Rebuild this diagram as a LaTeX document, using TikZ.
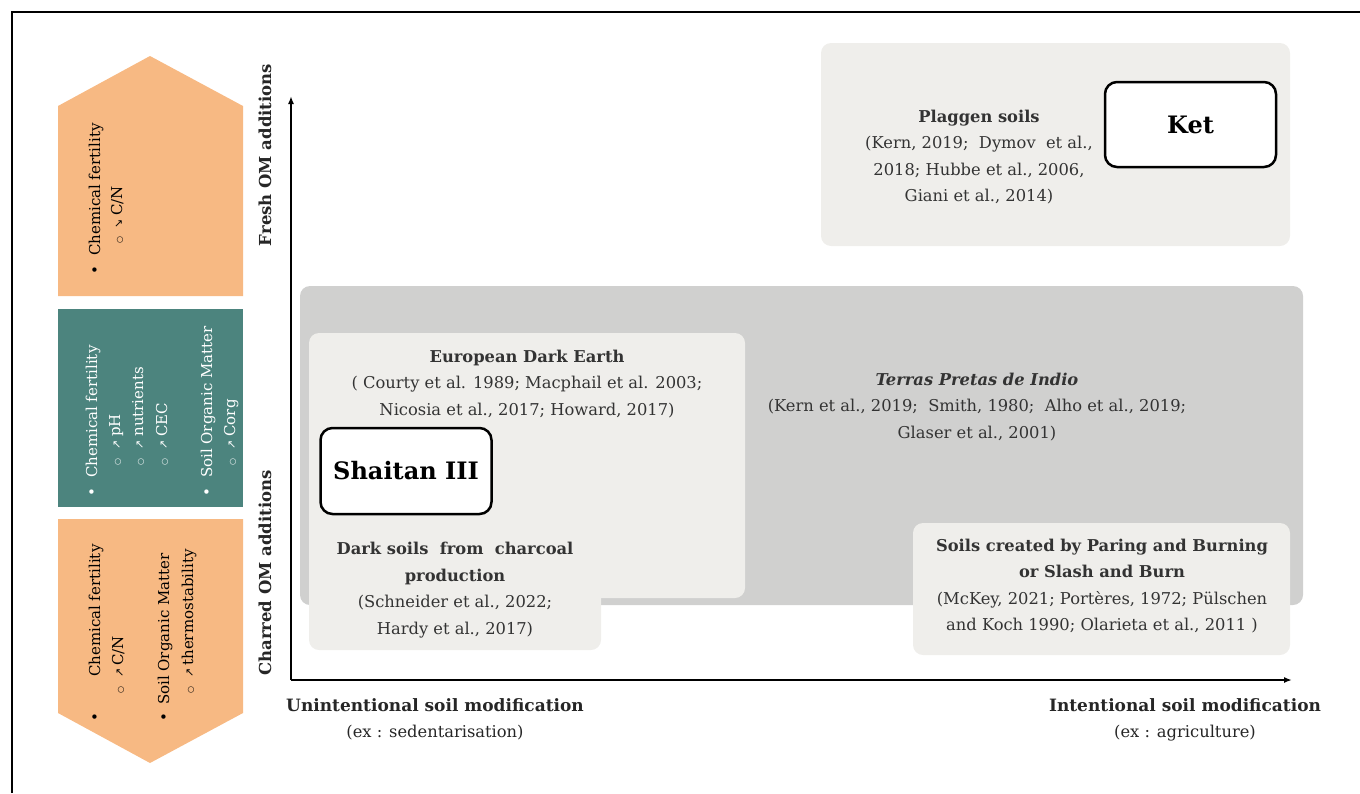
\documentclass[tikz,border=0pt]{standalone}
\usepackage{fontspec}
\setmainfont{DejaVu Serif}
\newfontfamily\symfont{DejaVu Sans}
\usepackage{tikz}
\usetikzlibrary{arrows.meta,positioning}
\definecolor{PeachFill}{RGB}{247,185,131}
\definecolor{TealFill}{RGB}{76,132,126}
\definecolor{ZoneGrey}{RGB}{208,208,207}
\definecolor{CardGrey}{RGB}{239,238,235}
\definecolor{InkGrey}{RGB}{51,51,51}
\newcommand{\dotmark}{{\symfont\fontsize{15}{15}\selectfont •}}
\newcommand{\ringmark}{{\symfont\fontsize{8}{8}\selectfont ○}}
\newcommand{\upmark}{{\symfont\fontsize{11}{11}\selectfont ↗}}
\newcommand{\downmark}{{\symfont\fontsize{11}{11}\selectfont ↘}}

\begin{document}
\begin{tikzpicture}[x=1pt, y=-1pt, >={Latex[length=8pt,width=6pt]},
    zone/.style={fill=ZoneGrey, rounded corners=10pt, inner sep=0pt},
    card/.style={fill=CardGrey, rounded corners=10pt, inner sep=0pt},
    site/.style={draw=black, line width=2.5pt, fill=white, rounded corners=12pt, inner sep=0pt, font=\fontsize{24}{24}\selectfont\bfseries},
    refs/.style={text=InkGrey, align=center, inner sep=0pt, font=\fontsize{16.3}{26.5}\selectfont},
    axislabel/.style={text=black!85, inner sep=0pt, font=\fontsize{16.5}{16.5}\selectfont\bfseries},
    axisnote/.style={text=black!85, inner sep=0pt, font=\fontsize{16.3}{16.3}\selectfont},
    sideline/.style={rotate=90, anchor=base west, inner sep=0pt, font=\fontsize{15}{15}\selectfont}]
    \useasboundingbox (0,0) rectangle (1360,793);

    % frame
    \draw [line width=1.5pt] (12,793) -- (12,12) -- (1360,12);

    % side panels
    \fill [PeachFill] (58,296) -- (58,106) -- (150,56) -- (243,106) -- (243,296) -- cycle;
    \fill [TealFill] (58,309) rectangle (243,507);
    \fill [PeachFill] (58,519) -- (243,519) -- (243,713) -- (150,763) -- (58,713) -- cycle;

    \node [sideline] (topA) at (100,275) {\dotmark\hspace{10pt}Chemical fertility};
    \node [sideline] (topB) at (122,244) {\ringmark\hspace{8pt}\downmark\hspace{4pt}C/N};

    \node [sideline, text=white] (midA) at (97,497) {\dotmark\hspace{10pt}Chemical fertility};
    \node [sideline, text=white] (midB) at (120,466) {\ringmark\hspace{9pt}\upmark\hspace{4pt}pH};
    \node [sideline, text=white] (midC) at (143,466) {\ringmark\hspace{9pt}\upmark\hspace{4pt}nutrients};
    \node [sideline, text=white] (midD) at (167,466) {\ringmark\hspace{9pt}\upmark\hspace{4pt}CEC};
    \node [sideline, text=white] (midE) at (212,497) {\dotmark\hspace{10pt}Soil Organic Matter};
    \node [sideline, text=white] (midF) at (235,466) {\ringmark\hspace{9pt}\upmark\hspace{4pt}Corg};

    \node [sideline] (lowA) at (100,722) {\dotmark\hspace{36pt}Chemical fertility};
    \node [sideline] (lowB) at (123,694) {\ringmark\hspace{9pt}\upmark\hspace{3pt}C/N};
    \node [sideline] (lowC) at (169,722) {\dotmark\hspace{8pt}Soil Organic Matter};
    \node [sideline] (lowD) at (193,694) {\ringmark\hspace{9pt}\upmark\hspace{3pt}thermostability};

    % zones and cards
    \node [zone, minimum width=1003pt, minimum height=319pt] (charred) at (801.5,445.5) {};
    \node [card, minimum width=436pt, minimum height=265pt] (edeCard) at (527,465.5) {};
    \node [card, minimum width=292pt, minimum height=90pt] (charCard) at (455,605) {};
    \node [card, minimum width=377pt, minimum height=132pt] (paringCard) at (1101.5,589) {};
    \node [card, minimum width=469pt, minimum height=203pt] (plaggenCard) at (1055.5,144.5) {};

    \node [site, minimum width=171pt, minimum height=86pt] (shaitan) at (406,471) {Shaitan III};
    \node [site, minimum width=171pt, minimum height=85pt] (ket) at (1190.5,124.5) {Ket};

    % references
    \node [refs] (edeText) at (527,384) {\textbf{European Dark Earth}\\( Courty et al. 1989; Macphail et al. 2003;\\Nicosia et al., 2017; Howard, 2017)};
    \node [refs] (charText) at (455,590) {\textbf{Dark soils~ from~ charcoal}\\\textbf{production}\\(Schneider et al., 2022;\\Hardy et al., 2017)};
    \node [refs] (tpText) at (977,407) {\textbf{\textit{Terras Pretas de Indio}}\\(Kern et al., 2019;~ Smith, 1980;~ Alho et al., 2019;\\Glaser et al., 2001)};
    \node [refs] (paringText) at (1102,586) {\textbf{Soils created by Paring and Burning}\\\textbf{or Slash and Burn}\\(McKey, 2021; Portères, 1972; Pülschen\\and Koch 1990; Olarieta et al., 2011 )};
    \node [refs] (plaggenText) at (979,157) {\textbf{Plaggen soils}\\(Kern, 2019;~ Dymov~ et al.,\\2018; Hubbe et al., 2006,\\Giani et al., 2014)};

    % axes
    \coordinate (origin) at (291,680);
    \coordinate (yEnd) at (291,96);
    \coordinate (xEnd) at (1292,680);
    \draw [->, line width=1.6pt] (origin) -- (yEnd);
    \draw [->, line width=1.6pt] (origin) -- (xEnd);

    \node [axislabel, rotate=90] (freshLabel) at (265,155) {Fresh OM additions};
    \node [axislabel, rotate=90] (charredLabel) at (265,573) {Charred OM additions};
    \node [axislabel, font=\fontsize{17}{17}\selectfont\bfseries] (unintLabel) at (435,705) {Unintentional soil modification};
    \node [axisnote, below=13pt of unintLabel] (unintNote) {(ex : sedentarisation)};
    \node [axislabel, font=\fontsize{17}{17}\selectfont\bfseries] (intLabel) at (1185,705) {Intentional soil modification};
    \node [axisnote, below=13pt of intLabel] (intNote) {(ex : agriculture)};
\end{tikzpicture}
\end{document}
